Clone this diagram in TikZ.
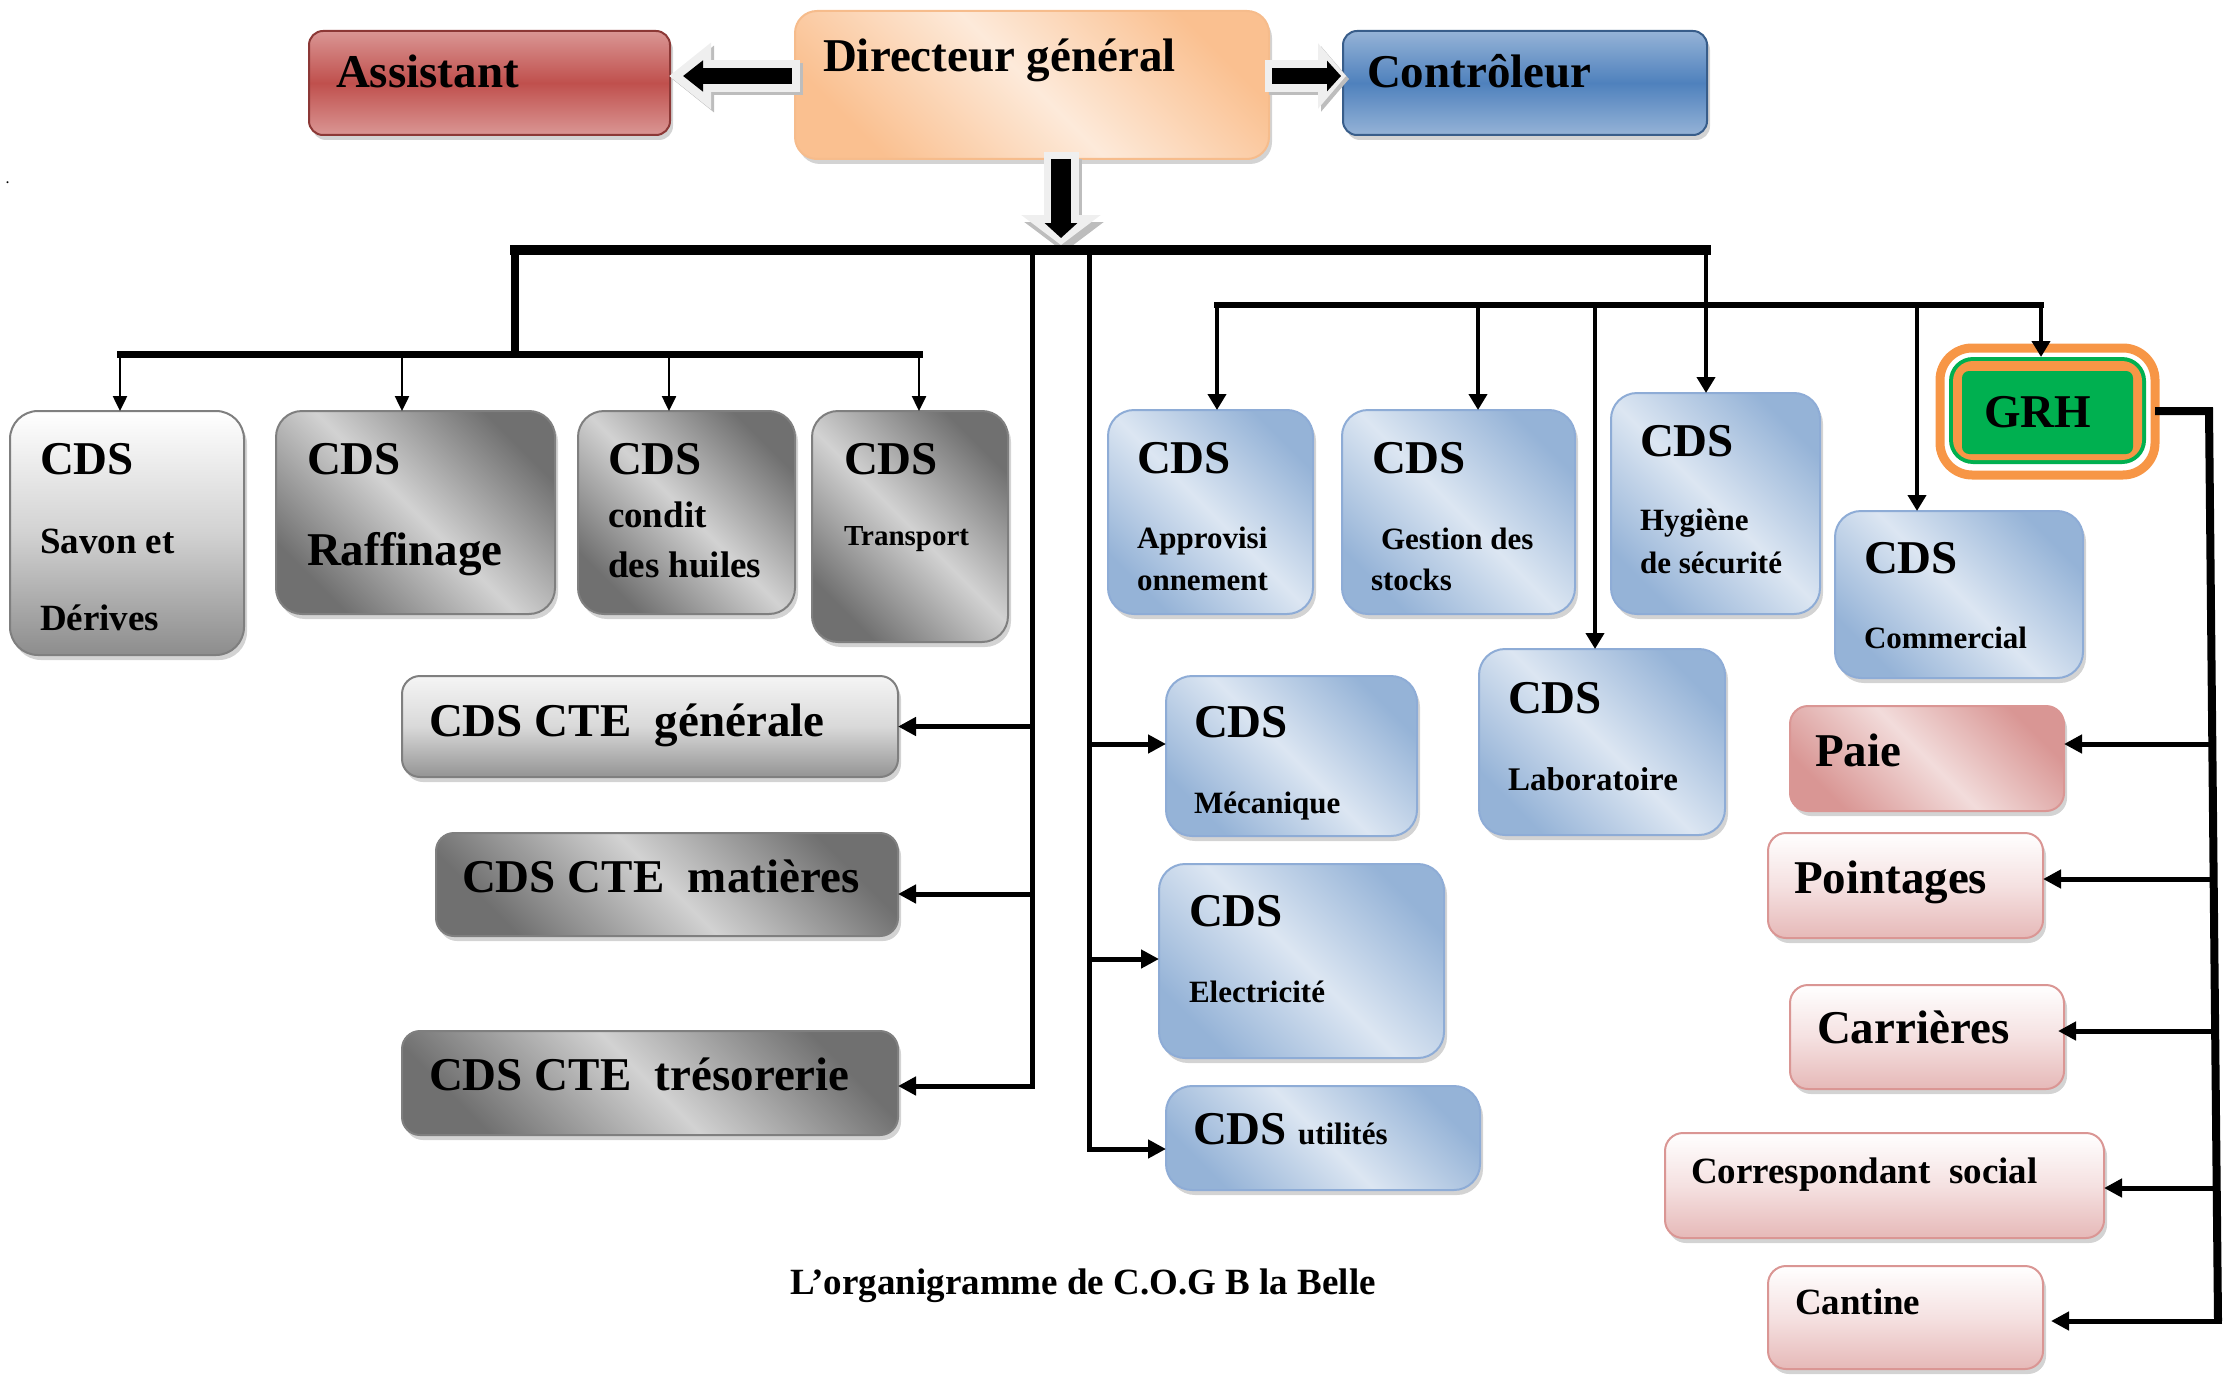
\documentclass[tikz,border=0pt]{standalone}
\usepackage{fontspec}
\setmainfont{Liberation Serif}
\usetikzlibrary{arrows.meta,shadows,fit}
\definecolor{redM}{HTML}{C0504D}
\definecolor{redL}{HTML}{DA9694}
\definecolor{redB}{HTML}{8C3836}
\definecolor{peachD}{HTML}{FAC090}
\definecolor{peachL}{HTML}{FDEADA}
\definecolor{peachB}{HTML}{F6BC8C}
\definecolor{blueD}{HTML}{4F81BD}
\definecolor{blueL}{HTML}{95B3D7}
\definecolor{blueB}{HTML}{385D8A}
\definecolor{blueLL}{HTML}{DCE6F2}
\definecolor{blueLB}{HTML}{8EACD6}
\definecolor{grayDk}{HTML}{707070}
\definecolor{grayLt}{HTML}{D2D2D2}
\definecolor{grayB}{HTML}{7F7F7F}
\definecolor{pinkD}{HTML}{D99694}
\definecolor{pinkL}{HTML}{F2DCDB}
\definecolor{pinkM}{HTML}{F5E1E1}
\definecolor{pinkB}{HTML}{DA9694}
\definecolor{pinkBot}{HTML}{E6B9B8}
\definecolor{grn}{HTML}{00B050}
\definecolor{orng}{HTML}{F79646}
\definecolor{lightarrow}{HTML}{EFEFEF}
\definecolor{shadarrow}{HTML}{BDBDBD}
\newcommand{\fz}[1]{\fontsize{#1pt}{#1pt}\selectfont\bfseries}
\begin{document}
\begin{tikzpicture}[x=1pt,y=-1pt,
  bx/.style={draw, line width=2pt, inner sep=0pt, outer sep=0pt, rounded corners=#1,
    drop shadow={shadow xshift=3pt,shadow yshift=-5pt,opacity=0.35}},
  bx/.default=26,
  vgrad/.style n args={3}{top color=#1, bottom color=#3, middle color=#2},
  dgrad/.style n args={2}{top color=#1, bottom color=#1, middle color=#2, shading angle=-45},
  graybox/.style={bx=#1, dgrad={grayDk}{grayLt}, draw=grayB},
  graybox/.default=26,
  bluebox/.style={bx=26, dgrad={blueL}{blueLL}, draw=blueLB},
  pinkbox/.style={bx=18, vgrad={white}{pinkM}{pinkBot}, draw=pinkB},
  tx/.style={anchor=base west, inner sep=0pt, outer sep=0pt},
  thinarr/.style={line width=2.5pt, -{Triangle[length=15pt,width=14pt]}},
  medarr/.style={line width=5pt, -{Triangle[length=18pt,width=18pt]}},
  arr2/.style={line width=4.5pt, -{Triangle[length=16pt,width=18pt]}},
]
\useasboundingbox (0,0) rectangle (2223,1375);

% ---------- top row ----------
\node[bx=14, vgrad={redL}{redM}{redL}, draw=redB, fit={(309,31)(670,135)}] (as) {};
\node[bx=22, dgrad={peachD}{peachL}, draw=peachB, fit={(795,11)(1269,159)}] (dg) {};
\node[bx=14, vgrad={blueL}{blueD}{blueL}, draw=blueB, fit={(1343,31)(1707,135)}] (ct) {};
\node[tx, font=\fz{47}] (tAs) at (336,88) {Assistant};
\node[tx, font=\fz{47}] (tDg) at (823,72) {Directeur général};
\node[tx, font=\fz{47}] (tCt) at (1367,88) {Contrôleur};

% ---------- left group ----------
\node[bx=28, vgrad={white}{grayLt}{grayDk!80}, draw=grayB, fit={(10,411)(244,655)}] (savon) {};
\node[graybox, fit={(276,411)(555,614)}] (raff) {};
\node[graybox, fit={(578,411)(795,614)}] (cond) {};
\node[graybox, fit={(812,411)(1008,642)}] (trans) {};
\node[tx, font=\fz{47}] (tSa1) at (40,474) {CDS};
\node[tx, font=\fz{37}] (tSa2) at (40,553) {Savon et};
\node[tx, font=\fz{37}] (tSa3) at (40,630) {Dérives};
\node[tx, font=\fz{47}] (tRa1) at (307,474) {CDS};
\node[tx, font=\fz{47}] (tRa2) at (307,565) {Raffinage};
\node[tx, font=\fz{47}] (tCo1) at (608,474) {CDS};
\node[tx, font=\fz{37}] (tCo2) at (608,527) {condit};
\node[tx, font=\fz{37}] (tCo3) at (608,577) {des huiles};
\node[tx, font=\fz{47}] (tTr1) at (844,474) {CDS};
\node[tx, font=\fz{29}] (tTr2) at (844,545) {Transport};

% ---------- CTE ----------
\node[bx=18, vgrad={white!92!gray}{grayLt!85!white}{grayDk!75!white}, draw=grayB, fit={(402,676)(898,777)}] (cteg) {};
\node[graybox=18, fit={(436,833)(898,936)}] (ctem) {};
\node[graybox=18, fit={(402,1031)(898,1135)}] (ctet) {};
\node[tx, font=\fz{47}] (tCg) at (429,736) {CDS CTE~~générale};
\node[tx, font=\fz{47}] (tCm) at (462,892) {CDS CTE~~matières};
\node[tx, font=\fz{47}] (tCt2) at (429,1090) {CDS CTE~~trésorerie};

% ---------- blue boxes ----------
\node[bluebox, fit={(1108,410)(1313,614)}] (appro) {};
\node[bluebox, fit={(1342,410)(1575,614)}] (gest) {};
\node[bluebox, fit={(1611,393)(1820,614)}] (hyg) {};
\node[bluebox, fit={(1835,511)(2083,678)}] (comm) {};
\node[bluebox, fit={(1479,649)(1725,835)}] (lab) {};
\node[bluebox, fit={(1166,676)(1417,836)}] (meca) {};
\node[bluebox, fit={(1159,864)(1444,1058)}] (elec) {};
\node[bluebox, fit={(1166,1086)(1480,1190)}] (util) {};
\node[tx, font=\fz{47}] (tAp1) at (1137,473) {CDS};
\node[tx, font=\fz{31}] (tAp2) at (1137,548) {Approvisi};
\node[tx, font=\fz{31}] (tAp3) at (1137,590) {onnement};
\node[tx, font=\fz{47}] (tGe1) at (1372,473) {CDS};
\node[tx, font=\fz{31}] (tGe2) at (1381,549) {Gestion des};
\node[tx, font=\fz{31}] (tGe3) at (1371,590) {stocks};
\node[tx, font=\fz{47}] (tHy1) at (1640,456) {CDS};
\node[tx, font=\fz{31}] (tHy2) at (1640,530) {Hygiène};
\node[tx, font=\fz{31}] (tHy3) at (1640,573) {de sécurité};
\node[tx, font=\fz{47}] (tCm1) at (1864,573) {CDS};
\node[tx, font=\fz{31}] (tCm2) at (1864,648) {Commercial};
\node[tx, font=\fz{47}] (tLa1) at (1508,713) {CDS};
\node[tx, font=\fz{33}] (tLa2) at (1508,790) {Laboratoire};
\node[tx, font=\fz{47}] (tMe1) at (1194,737) {CDS};
\node[tx, font=\fz{31}] (tMe2) at (1194,813) {Mécanique};
\node[tx, font=\fz{47}] (tEl1) at (1189,926) {CDS};
\node[tx, font=\fz{31}] (tEl2) at (1189,1002) {Electricité};
\node[tx, font=\fz{47}] (tUt1) at (1193,1144) {CDS};
\node[tx, font=\fz{31}] (tUt2) at (1298,1144) {utilités};

% ---------- GRH ----------
\node[fit={(1940,348)(2155,475)}, inner sep=0pt, outer sep=0pt, rounded corners=32, draw=orng, line width=9pt, fill=white] (grh) {};
\node[fit={(1949,357)(2146,464)}, inner sep=0pt, outer sep=0pt, rounded corners=24, fill=grn] (grhA) {};
\node[fit={(1953,361)(2142,460)}, inner sep=0pt, outer sep=0pt, rounded corners=20, fill=orng] (grhB) {};
\node[fit={(1962,371)(2133,454)}, inner sep=0pt, outer sep=0pt, rounded corners=7, fill=grn] (grhC) {};
\node[tx, font=\fz{47}] (tGrh) at (1984,427) {GRH};

% ---------- pink boxes ----------
\node[bx=18, dgrad={pinkD}{pinkL}, draw=pinkB, fit={(1790,706)(2064,811)}] (paie) {};
\node[pinkbox, fit={(1768,833)(2043,938)}] (point) {};
\node[pinkbox, fit={(1790,985)(2064,1089)}] (carr) {};
\node[pinkbox, fit={(1665,1133)(2104,1238)}] (corr) {};
\node[pinkbox, fit={(1768,1266)(2043,1369)}] (cant) {};
\node[tx, font=\fz{47}] (tPa) at (1815,766) {Paie};
\node[tx, font=\fz{47}] (tPo) at (1794,893) {Pointages};
\node[tx, font=\fz{47}] (tCa) at (1817,1043) {Carrières};
\node[tx, font=\fz{37}] (tCs) at (1691,1183) {Correspondant~~social};
\node[tx, font=\fz{37}] (tCn) at (1795,1314) {Cantine};

% ---------- caption ----------
\node[anchor=base, inner sep=0pt, font=\fz{37}] (cap) at (1083,1294) {L’organigramme de C.O.G B la Belle};
\node[tx, font=\fz{12}] (dot) at (6,184) {.};

% ---------- block arrows ----------
\draw[line width=32pt, shadarrow, -{Triangle[length=42pt,width=64pt]}] ([xshift=8pt,yshift=-3pt]dg.west |- 0,76) -- ([xshift=2pt,yshift=-3pt]as.east |- 0,76);
\draw[line width=32pt, lightarrow, -{Triangle[length=42pt,width=64pt]}] ([xshift=5pt]dg.west |- 0,76) -- ([xshift=-1pt]as.east |- 0,76);
\draw[line width=16pt, black, -{Triangle[length=20pt,width=30pt]}] ([xshift=-3pt]dg.west |- 0,76) -- ([xshift=13pt]as.east |- 0,76);

\draw[line width=32pt, shadarrow, -{Triangle[length=28pt,width=64pt]}] ([xshift=0pt,yshift=-3pt]dg.east |- 0,76) -- ([xshift=6pt,yshift=-3pt]ct.west |- 0,76);
\draw[line width=32pt, lightarrow, -{Triangle[length=28pt,width=64pt]}] ([xshift=-4pt]dg.east |- 0,76) -- ([xshift=3pt]ct.west |- 0,76);
\draw[line width=16pt, black, -{Triangle[length=14pt,width=30pt]}] ([xshift=3pt]dg.east |- 0,76) -- ([xshift=-2pt]ct.west |- 0,76);

\coordinate (bus) at (1061,250);
\draw[line width=35pt, shadarrow, -{Triangle[length=30pt,width=78pt]}] ([xshift=3pt]dg.south -| bus) -- ([xshift=3pt,yshift=-2pt]bus);
\draw[line width=35pt, lightarrow, -{Triangle[length=30pt,width=78pt]}] ([yshift=7pt]dg.south -| bus) -- ([yshift=5pt]bus);
\draw[line width=20pt, black, -{Triangle[length=15pt,width=32pt]}] ([yshift=0pt]dg.south -| bus) -- ([yshift=12pt]bus);

% ---------- buses and connectors ----------
\coordinate (busL) at (515,250);
\coordinate (busR) at (1706,250);
\coordinate (subJ) at (515,354);
\coordinate (subL) at (120,354);
\coordinate (subR) at (919,354);
\coordinate (subA) at (402,354);
\coordinate (subB) at (669,354);
\draw[line width=10pt, line cap=rect] (busL) -- (busR);
\draw[line width=8pt] (busL) -- (subJ);
\draw[line width=7pt, line cap=rect] (subL) -- (subR);
\draw[thinarr] (subL) -- (subL |- savon.north);
\draw[thinarr] (subA) -- (subA |- raff.north);
\draw[thinarr] (subB) -- (subB |- cond.north);
\draw[thinarr] (subR) -- (subR |- trans.north);

\coordinate (vL) at (1032,250);
\coordinate (vR) at (1089,250);
\draw[medarr] (vL) |- (ctet.east |- 0,1086);
\draw[medarr] (vL |- cteg.east) -- (cteg.east);
\draw[medarr] (vL |- 0,894) -- (ctem.east |- 0,894);
\draw[medarr] (vR) |- (util.west |- 0,1149);
\draw[medarr] (vR |- 0,744) -- (meca.west |- 0,744);
\draw[medarr] (vR |- 0,959) -- (elec.west |- 0,959);

\draw[arr2] (busR) -- (busR |- hyg.north);

\coordinate (b2L) at (1217,305);
\coordinate (b2R) at (2041,305);
\coordinate (b2a) at (1478,305);
\coordinate (b2b) at (1595,305);
\coordinate (b2c) at (1917,305);
\draw[line width=6pt, line cap=rect] (b2L) -- (b2R);
\draw[arr2] (b2L) -- (b2L |- appro.north);
\draw[arr2] (b2a) -- (b2a |- gest.north);
\draw[arr2] (b2b) -- (b2b |- lab.north);
\draw[arr2] (b2c) -- (b2c |- comm.north);
\draw[arr2] (b2R) -- (b2R |- grhA.north);

\coordinate (gr1) at (2209,411);
\coordinate (gr2) at (2218,1321);
\draw[line width=8pt, line join=miter] (grh.east |- gr1) -- (gr1) -- (gr2);
\draw[medarr] (2212,744) -- (paie.east |- 0,744);
\draw[medarr] (2213,879) -- (point.east |- 0,879);
\draw[medarr] (2214,1031) -- ([xshift=-6pt]carr.east |- 0,1031);
\draw[medarr] (2216,1188) -- (corr.east |- 0,1188);
\draw[medarr] ([xshift=4pt]gr2) -- ([xshift=8pt]cant.east |- gr2);
\end{tikzpicture}
\end{document}
